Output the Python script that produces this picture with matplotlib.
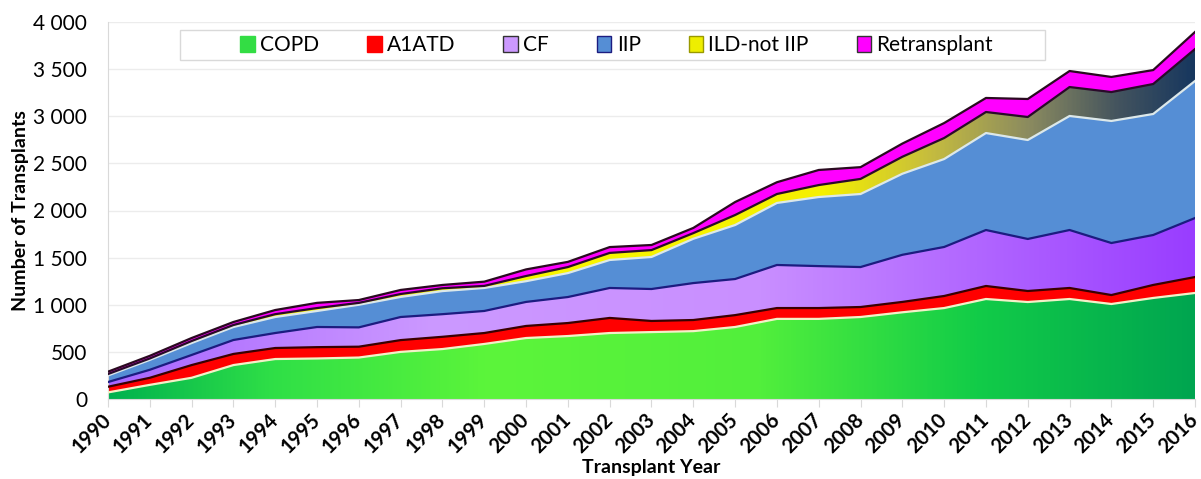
import numpy as np
import matplotlib
matplotlib.use("Agg")
import matplotlib.pyplot as plt
from matplotlib.colors import LinearSegmentedColormap
from matplotlib.patches import Polygon, Patch, Rectangle
from matplotlib.ticker import FuncFormatter, MultipleLocator

plt.rcParams['font.family'] = ['Lato', 'DejaVu Sans']

# Data
years = np.arange(1990, 2017)
copd = [70, 150, 225, 360, 424, 430, 440, 500, 530, 584, 647, 668, 700, 710,
        720, 764, 850, 850, 870, 920, 965, 1061, 1029, 1061, 1008, 1072, 1125]
a1atd = [60, 75, 135, 118, 117, 120, 115, 125, 130, 116, 128, 138, 160, 118,
         118, 126, 115, 115, 106, 110, 128, 138, 117, 117, 95, 138, 169]
cf = [50, 85, 107, 148, 159, 214, 205, 245, 240, 234, 255, 276, 318, 339,
      392, 383, 457, 445, 424, 500, 520, 594, 552, 615, 552, 530, 626]
iip = [70, 105, 127, 138, 170, 170, 240, 213, 245, 244, 220, 254, 297, 340,
       470, 573, 658, 733, 775, 860, 933, 1029, 1050, 1210, 1295, 1284, 1454]
ild = [15, 15, 21, 21, 30, 31, 20, 31, 30, 22, 55, 64, 75, 73,
       60, 106, 95, 127, 160, 180, 223, 223, 244, 307, 307, 318, 339]
retx = [25, 28, 32, 32, 44, 55, 30, 43, 35, 45, 70, 55, 62, 54,
        55, 138, 125, 160, 125, 140, 159, 149, 191, 170, 160, 148, 181]

labels = ['COPD', 'A1ATD', 'CF', 'IIP', 'ILD-not IIP', 'Retransplant']
series = [copd, a1atd, cf, iip, ild, retx]

# fills: either a flat colour or a list of gradient stops (left -> right)
fills = [
    [(0, '#00b14f'), (0.15, '#2fdf47'), (0.35, '#5cf53a'), (0.6, '#52ef3c'),
     (0.8, '#12cc48'), (1, '#00a550')],
    '#ff0000',
    [(0, '#a866ff'), (0.3, '#cc99ff'), (0.6, '#c98fff'), (1, '#993dff')],
    '#558ed5',
    [(0, '#ffff00'), (0.66, '#f5f000'), (0.76, '#c4bb40'), (0.85, '#8a8a60'),
     (0.93, '#44545e'), (1, '#17375e')],
    '#ff00ff',
]
edges = ['#f2f0c8', '#3a0000', '#1c1c80', '#dce8ea', '#2a0a2a', '#2a0a20']
legend_cols = ['#33dd44', '#ff0000', '#cc99ff', '#558ed5', '#eeee00', '#ff00ff']
legend_edges = ['#33dd44', '#ff0000', '#333333', '#1c1c80', '#999900', '#333333']

fig = plt.figure(figsize=(12.01, 4.79), dpi=100)
ax = fig.add_axes([108 / 1201, 80 / 479, 1087 / 1201, 377 / 479])

bottom = np.zeros(len(years))
for vals, fill, ec in zip(series, fills, edges):
    top = bottom + np.array(vals, dtype=float)
    verts = np.concatenate([np.column_stack([years, top]),
                            np.column_stack([years[::-1], bottom[::-1]])])
    if isinstance(fill, str):
        poly = Polygon(verts, closed=True, facecolor=fill, edgecolor='none', zorder=2)
        ax.add_patch(poly)
    else:
        poly = Polygon(verts, closed=True, facecolor='none', edgecolor='none', zorder=2)
        ax.add_patch(poly)
        cmap = LinearSegmentedColormap.from_list('g', fill)
        grad = np.linspace(0, 1, 512).reshape(1, -1)
        im = ax.imshow(grad, extent=[1990, 2016, 0, 4000], aspect='auto',
                       cmap=cmap, origin='lower', zorder=2, interpolation='bilinear')
        im.set_clip_path(poly)
    ax.plot(years, top, color=ec, lw=1.6, zorder=3)
    bottom = top

ax.set_xlim(1990, 2016)
ax.set_ylim(0, 4000)
ax.set_aspect('auto')

ax.yaxis.set_major_locator(MultipleLocator(500))
ax.yaxis.set_major_formatter(FuncFormatter(lambda v, p: f"{int(v):,}".replace(',', ' ')))
ax.set_xticks(years)
ax.set_xticklabels([str(y) for y in years], rotation=45, ha='right', va='center',
                   rotation_mode='anchor', fontweight='bold', fontsize=14.5)
ax.tick_params(axis='y', length=0, labelsize=15, pad=15)
ax.tick_params(axis='x', length=6, color='#d9d9d9', pad=7)
ax.grid(axis='y', color='#ececec', lw=1, zorder=0)
ax.set_axisbelow(True)
for s in ['top', 'right']:
    ax.spines[s].set_visible(False)
for s in ['left', 'bottom']:
    ax.spines[s].set_color('#d9d9d9')

ax.set_ylabel('Number of Transplants', fontsize=14, fontweight='bold')
ax.yaxis.set_label_coords(-0.073, 0.5)
ax.set_xlabel('Transplant Year', fontsize=14, fontweight='bold')
ax.xaxis.set_label_coords(0.5, -0.16)

# legend box
ax.add_patch(Rectangle((0.0662, 0.899), 0.7958, 0.0796, transform=ax.transAxes,
                       facecolor='white', edgecolor='#d9d9d9', lw=1, zorder=4))
handles = [Patch(facecolor=c, edgecolor=e, lw=1) for c, e in zip(legend_cols, legend_edges)]
leg = ax.legend(handles, labels, ncol=6, loc='center',
                bbox_to_anchor=(0.468, 0.939), fontsize=15,
                frameon=False, handlelength=0.7, handleheight=0.8,
                handletextpad=0.25, columnspacing=2.3)
leg.set_zorder(5)

fig.savefig('out.png', dpi=100)
